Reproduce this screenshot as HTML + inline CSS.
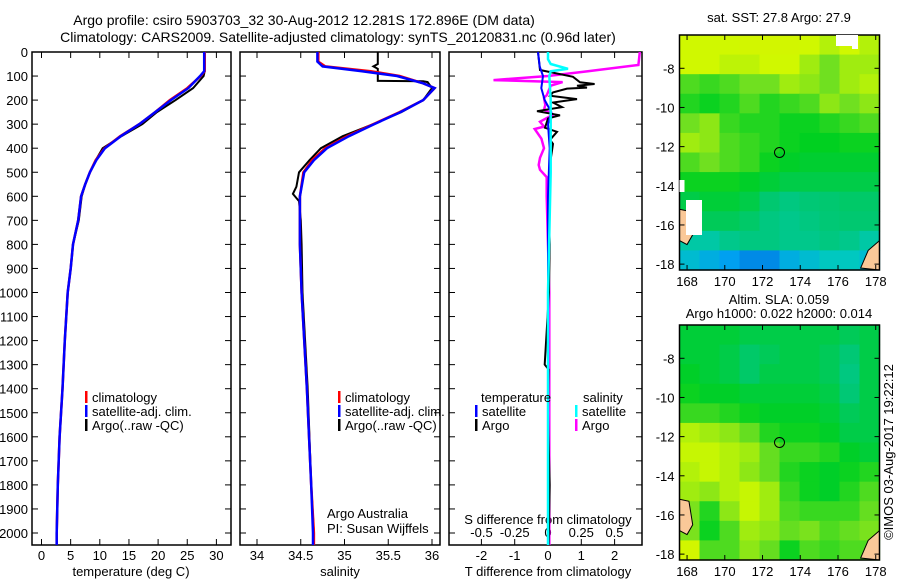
<!DOCTYPE html>
<html><head><meta charset="utf-8"><style>
body{margin:0;background:#fff;}
svg{display:block;font-family:"Liberation Sans",sans-serif;}
</style></head><body>
<svg id="c" width="900" height="580" viewBox="0 0 900 580"></svg>
<script>
// ---- data ----
const depthT=[0,80,100,150,200,250,300,350,400,450,500,550,600,700,800,900,1000,1200,1400,1600,1800,2000,2050];
const climT=[28,28,27.3,25,22,19.5,16.8,13.5,10.8,9.3,8.3,7.5,6.8,6.3,5.4,5.0,4.5,4.0,3.6,3.1,2.8,2.6,2.6];
const satT=[27.9,27.9,27.2,25.2,22.2,19.5,16.8,13.6,10.9,9.4,8.3,7.5,6.8,6.3,5.4,5.0,4.5,4.0,3.6,3.1,2.8,2.6,2.6];
const argoT=[28,28,27.8,26,23,19.8,17.3,13.7,10.5,9.3,8.3,7.5,6.9,6.4,5.4,5.0,4.5,4.0,3.6,3.1,2.8,2.6,2.6];
const depthS=[0,40,60,80,100,130,150,200,250,300,350,400,450,500,600,800,1000,1400,1800,2000,2050];
const climS=[34.70,34.70,34.78,35.3,35.63,35.9,36.03,35.9,35.63,35.33,35.03,34.78,34.63,34.53,34.49,34.49,34.51,34.57,34.62,34.65,34.65];
const satS=[34.69,34.69,34.75,35.2,35.6,35.9,36.03,35.9,35.64,35.34,35.05,34.8,34.65,34.54,34.49,34.49,34.51,34.57,34.62,34.64,34.64];
const depthA=[0,50,60,70,100,120,122,125,150,200,250,300,350,400,450,500,560,590,620,700,800,1000,1400,1800,2000,2050];
const argoS=[35.38,35.38,35.33,35.38,35.38,35.38,35.9,35.95,36.0,35.9,35.65,35.33,34.98,34.73,34.6,34.48,34.45,34.41,34.48,34.5,34.51,34.52,34.58,34.62,34.65,34.65];
const depthD=[0,75,103,126,133,140,148,152,168,182,196,210,229,246,263,276,315,332,365,382,465,600,800,1000,1300,1320,1500,1800,2050];
const argoTd=[-0.3,-0.24,0.75,0.96,1.4,0.87,1.17,0.57,0.15,0.06,0.87,0.15,0.42,-0.33,0.36,0,-0.09,0.27,0.06,0.15,0.06,0.02,0.05,0.03,-0.1,0.02,0,0.05,0.02];
const depthB=[0,60,100,150,200,250,300,400,600,1000,2050];
const satTd=[-0.3,-0.25,-0.15,-0.2,-0.1,0.1,0.0,0.05,0.0,0.0,0.0];
const depthM=[0,54,80,100,117,125,140,180,190,220,240,260,290,310,320,360,400,440,470,490,520,600,1000,2050];
const argoSd=[0.69,0.68,0.3,0.0,-0.41,0.11,0.02,-0.01,-0.03,-0.02,-0.03,0.04,-0.06,-0.03,-0.1,-0.05,-0.03,-0.06,-0.07,-0.06,-0.01,-0.01,0.01,0.01];
const depthC=[0,30,50,70,80,100,200,500,1000,2050];
const satSd=[0.0,0.0,0.02,0.15,0.02,0.01,0.02,0.02,0.0,0.0];
const depthTicks=[0,100,200,300,400,500,600,700,800,900,1000,1100,1200,1300,1400,1500,1600,1700,1800,1900,2000];
const tTicks=[0,5,10,15,20,25,30];
const sTicks=[34,34.5,35,35.5,36];
const tdTicks=[-2,-1,0,1,2];
const sdTicks=[-0.5,-0.25,0,0.25,0.5];
const latTicks=[-8,-10,-12,-14,-16,-18];
const lonTicks=[168,170,172,174,176,178];
const sstGrid=[
[0.85,0.85,0.85,0.86,0.86,0.86,0.85,0.82,0.85,0.82],
[0.85,0.85,0.83,0.83,0.85,0.85,0.8,0.75,0.8,0.8],
[0.72,0.7,0.72,0.75,0.75,0.8,0.78,0.75,0.8,0.82],
[0.68,0.66,0.68,0.72,0.68,0.7,0.72,0.78,0.75,0.78],
[0.75,0.78,0.7,0.68,0.68,0.66,0.66,0.68,0.7,0.72],
[0.8,0.78,0.72,0.7,0.68,0.66,0.65,0.65,0.66,0.66],
[0.72,0.75,0.72,0.7,0.66,0.64,0.63,0.63,0.63,0.63],
[0.66,0.66,0.66,0.64,0.62,0.6,0.6,0.6,0.6,0.6],
[0.6,0.62,0.62,0.6,0.55,0.52,0.54,0.55,0.56,0.56],
[0.55,0.58,0.58,0.56,0.52,0.5,0.52,0.54,0.55,0.55],
[0.45,0.45,0.5,0.52,0.52,0.5,0.5,0.52,0.5,0.45],
[0.35,0.3,0.25,0.2,0.2,0.3,0.35,0.4,0.4,0.35]];
const slaGrid=[
[0.62,0.62,0.62,0.6,0.6,0.6,0.6,0.6,0.58,0.6],
[0.62,0.62,0.6,0.56,0.58,0.6,0.6,0.58,0.54,0.6],
[0.64,0.62,0.6,0.56,0.6,0.6,0.6,0.58,0.52,0.6],
[0.66,0.64,0.64,0.62,0.62,0.62,0.62,0.6,0.54,0.6],
[0.7,0.7,0.68,0.66,0.64,0.64,0.64,0.62,0.58,0.6],
[0.82,0.8,0.78,0.74,0.68,0.66,0.66,0.64,0.6,0.6],
[0.84,0.84,0.82,0.8,0.74,0.7,0.7,0.68,0.64,0.62],
[0.82,0.84,0.82,0.78,0.74,0.68,0.66,0.64,0.66,0.68],
[0.8,0.78,0.82,0.84,0.8,0.7,0.66,0.64,0.68,0.72],
[0.76,0.68,0.78,0.84,0.8,0.72,0.7,0.7,0.7,0.74],
[0.76,0.66,0.72,0.8,0.78,0.74,0.76,0.72,0.74,0.76],
[0.86,0.72,0.72,0.78,0.74,0.66,0.72,0.7,0.72,0.72]];
const argoPos=[172.9,-12.3];

// ---- scales ----
const yD=d=>52+d*0.2405;
const xT=t=>41.5+t*5.83;
const xS=s=>257+(s-34)*87.5;
const xTd=v=>548+v*33.3;
const xSd=v=>548+v*133;
const svg=document.getElementById('c');
const NS='http://www.w3.org/2000/svg';
function mk(tag,attrs,parent){const e=document.createElementNS(NS,tag);for(const k in attrs)e.setAttribute(k,attrs[k]);(parent||svg).appendChild(e);return e;}
function txt(x,y,s,anchor,size,parent){const e=mk('text',{x:x,y:y,'text-anchor':anchor||'start','font-size':size||13,fill:'#000'},parent);e.textContent=s;return e;}
function line(xs,ds,sx,color,w,name){
  const pts=xs.map((v,i)=>sx(v).toFixed(1)+','+yD(ds[i]).toFixed(1)).join(' ');
  const p=mk('polyline',{points:pts,fill:'none',stroke:color,'stroke-width':w,'stroke-linejoin':'miter'});
  
  
}
const panels=[[32,231],[240,440],[449,642]];
let t1=txt(304,25,'Argo profile: csiro 5903703_32 30-Aug-2012 12.281S 172.896E (DM data)','middle',14);


let t2=txt(338,42,'Climatology: CARS2009. Satellite-adjusted climatology: synTS_20120831.nc (0.96d later)','middle',14);


depthTicks.forEach(d=>{
  const e=txt(28,yD(d)+5,String(d),'end',13);
  
  
});
panels.forEach(([l,r],i)=>{
  const f=mk('rect',{x:l,y:52,width:r-l,height:493,fill:'none',stroke:'#000','stroke-width':1.5});
  
  
  depthTicks.forEach(d=>{
    mk('line',{x1:l,x2:l+6,y1:yD(d),y2:yD(d),stroke:'#000'});
    mk('line',{x1:r-6,x2:r,y1:yD(d),y2:yD(d),stroke:'#000'});
  });
});
function xticks(ticks,sx,yLab){ticks.forEach(v=>{const x=sx(v);
  mk('line',{x1:x,x2:x,y1:545,y2:539,stroke:'#000'});mk('line',{x1:x,x2:x,y1:52,y2:58,stroke:'#000'});
  const e=txt(x,yLab,String(v),'middle',13);
  
  });}
xticks(tTicks,xT,560);
xticks(sTicks,xS,560);
xticks(tdTicks,xTd,560);
sdTicks.forEach(v=>{const e=txt(xSd(v),537,String(v),'middle',13);
  
  });
[[131,'temperature (deg C)','x-axis-title-temperature'],[340,'salinity','x-axis-title-salinity'],[548,'T difference from climatology','x-axis-title-t-diff']].forEach(([x,s,n])=>{
  const e=txt(x,576,s,'middle',13);});
let sdt=txt(548,524,'S difference from climatology','middle',13);


line(argoT,depthT,xT,'#000',2,'argo-temperature-line');
line(climT,depthT,xT,'#f00',2.5,'clim-temperature-line');
line(satT,depthT,xT,'#00f',2.5,'sat-temperature-line');
line(argoS,depthA,xS,'#000',2,'argo-salinity-line');
line(climS,depthS,xS,'#f00',2.5,'clim-salinity-line');
line(satS,depthS,xS,'#00f',2.5,'sat-salinity-line');
line(argoSd,depthM,xSd,'#f0f',2.5,'argo-s-diff-line');
line(argoTd,depthD,xTd,'#000',2,'argo-t-diff-line');
line(satTd,depthB,xTd,'#00f',2,'sat-t-diff-line');
line(satSd,depthC,xSd,'#0ff',2.5,'sat-s-diff-line');
function leg(x,y,color,label,name){
  const g=mk('g',{});
  mk('rect',{x:x,y:y-11,width:2.5,height:12,fill:color},g);txt(x+7,y,label,'start',13,g);}
[[85,'legend-temp'],[338,'legend-sal']].forEach(([x,n])=>{
  leg(x,402,'#f00','climatology',n+'-climatology');
  leg(x,416,'#00f','satellite-adj. clim.',n+'-satellite');
  leg(x,430,'#000','Argo(..raw -QC)',n+'-argo');});
let lt=txt(481,402,'temperature','start',13);
let ls=txt(583,402,'salinity','start',13);
leg(475,416,'#00f','satellite','legend-diff-t-satellite');
leg(475,430,'#000','Argo','legend-diff-t-argo');
leg(575,416,'#0ff','satellite','legend-diff-s-satellite');
leg(575,430,'#f0f','Argo','legend-diff-s-argo');
let aa=txt(327,518,'Argo Australia','start',13);
let pi=txt(327,533,'PI: Susan Wijffels','start',13);

const stops=[[0,[0,48,192]],[0.25,[0,160,240]],[0.4,[0,200,192]],[0.55,[0,200,112]],[0.65,[0,208,32]],[0.75,[112,224,32]],[0.85,[208,248,0]],[1,[240,224,0]]];
function cmap(v){for(let i=1;i<stops.length;i++){if(v<=stops[i][0]){const a=stops[i-1],b=stops[i],f=(v-a[0])/(b[0]-a[0]);
  return 'rgb('+a[1].map((c,k)=>Math.round(c+(b[1][k]-c)*f)).join(',')+')';}}return 'rgb(240,224,0)';}
function drawMap(top,grid,name){
  const L=679.5,R=879.5,T=top,B=top+235;
  const lonX=lon=>L+(lon-167.6)*(R-L)/10.6;
  const latY=lat=>T+(-6.3-lat)*(B-T)/12;
  const g=mk('g',{});
  const rows=grid.length,cols=grid[0].length,cw=(R-L)/cols,ch=(B-T)/rows;
  grid.forEach((row,r)=>row.forEach((v,c)=>{
    const cell=mk('rect',{x:L+c*cw,y:T+r*ch,width:cw+0.6,height:ch+0.6,fill:cmap(v)},g);
    
    
  }));
  mk('path',{d:`M${L} ${latY(-15.2)} L${lonX(168.1)} ${latY(-15.3)} L${lonX(168.3)} ${latY(-16.5)} L${lonX(168.0)} ${latY(-17)} L${L} ${latY(-16.8)} Z`,fill:'#fac898',stroke:'#000','stroke-width':1},g);
  mk('path',{d:`M${R} ${latY(-16.8)} L${lonX(177.6)} ${latY(-17.3)} L${lonX(177.2)} ${latY(-18.2)} L${R} ${B} Z`,fill:'#fac898',stroke:'#000','stroke-width':1},g);
  mk('circle',{cx:lonX(argoPos[0]),cy:latY(argoPos[1]),r:5,fill:'none',stroke:'#000','stroke-width':1},g);
  mk('rect',{x:L,y:T,width:R-L,height:B-T,fill:'none',stroke:'#000','stroke-width':1.5},g);
  latTicks.forEach(l=>{const y=latY(l);mk('line',{x1:L,x2:L+5,y1:y,y2:y,stroke:'#000'},g);mk('line',{x1:R-5,x2:R,y1:y,y2:y,stroke:'#000'},g);
    txt(L-5,y+5,String(l),'end',13,g);});
  lonTicks.forEach(l=>{const x=lonX(l);mk('line',{x1:x,x2:x,y1:B,y2:B-5,stroke:'#000'},g);mk('line',{x1:x,x2:x,y1:T,y2:T+5,stroke:'#000'},g);
    txt(x,B+16,String(l),'middle',13,g);});
  return {L,R,T,B,lonX,latY,g};
}
const m1=drawMap(35,sstGrid,'sst-map');
mk('rect',{x:836,y:35,width:22,height:11,fill:'#fff'},m1.g);
mk('rect',{x:852,y:35,width:6,height:14,fill:'#fff'},m1.g);
mk('rect',{x:679.5,y:180,width:5,height:12,fill:'#fff'},m1.g);
mk('rect',{x:686,y:200,width:16,height:35,fill:'#fff'},m1.g);
drawMap(325,slaGrid,'sla-map');
let mt1=txt(779,22,'sat. SST: 27.8  Argo: 27.9','middle',13);
let mt2=txt(779,304,'Altim. SLA: 0.059','middle',13);
let mt3=txt(779,318,'Argo h1000: 0.022 h2000: 0.014','middle',13);
let cr=txt(0,0,'©IMOS 03-Aug-2017 19:22:12','middle',13);
cr.setAttribute('transform','translate(893,452) rotate(-90)');


</script>
</body></html>
